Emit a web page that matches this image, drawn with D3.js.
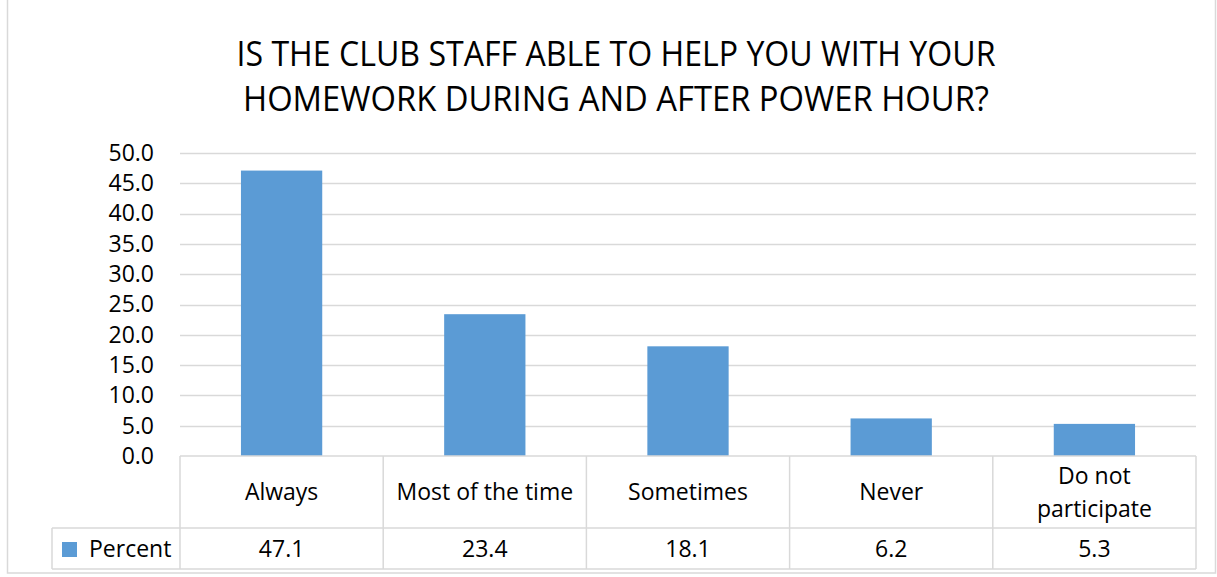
<!DOCTYPE html>
<html>
<head>
<meta charset="utf-8">
<script src="https://cdn.jsdelivr.net/npm/d3@7"></script>
<style>
  html, body { margin: 0; padding: 0; background: #fff; }
  svg { display: block; font-family: "Open Sans", "Noto Sans", sans-serif; }
</style>
</head>
<body>
<svg id="chart" width="1217" height="577"></svg>
<script>
// Survey responses (percent of members)
const categories = ["Always", "Most of the time", "Sometimes", "Never", "Do not participate"];
const percentValues = [47.1, 23.4, 18.1, 6.2, 5.3];
const yTicks = [0, 5, 10, 15, 20, 25, 30, 35, 40, 45, 50];
const titleLines = ["IS THE CLUB STAFF ABLE TO HELP YOU WITH YOUR", "HOMEWORK DURING AND AFTER POWER HOUR?"];
const seriesName = "Percent";

const svg = d3.select("#chart");
const W = 1217, H = 577;
const barColor = "#5b9bd5";
const gridColor = "#d9d9d9";
const textColor = "#000";
const labelSize = 23;

// plot area
const plotLeft = 180, plotRight = 1196, plotTop = 153, plotBottom = 456;
const tableRow1 = 528, tableRow2 = 569, legendLeft = 52;

// outer chart border
svg.append("rect")
  .attr("x", 7.5).attr("y", -1).attr("width", W - 9).attr("height", H - 3)
  .attr("fill", "#fff").attr("stroke", gridColor).attr("stroke-width", 1.5);

// title
const titleWidths = [759, 746];
titleLines.forEach((t, i) => {
  svg.append("text")
    .attr("x", 616).attr("y", 66 + i * 45)
    .attr("text-anchor", "middle")
    .attr("font-size", 35)
    .attr("textLength", titleWidths[i])
    .attr("lengthAdjust", "spacingAndGlyphs")
    .attr("fill", textColor)
    .text(t);
});

const x = d3.scaleBand().domain(categories).range([plotLeft, plotRight]).paddingInner(0).paddingOuter(0);
const y = d3.scaleLinear().domain([0, 50]).range([plotBottom, plotTop]);

// gridlines
svg.append("g").selectAll("line").data(yTicks.filter(d => d > 0)).join("line")
  .attr("x1", plotLeft).attr("x2", plotRight)
  .attr("y1", d => Math.round(y(d)) + 0.5).attr("y2", d => Math.round(y(d)) + 0.5)
  .attr("stroke", gridColor).attr("stroke-width", 1.5);

// y axis labels
const yAxis = d3.axisLeft(y).tickValues(yTicks).tickFormat(d3.format(".1f")).tickSize(0).tickPadding(0);
const yg = svg.append("g").attr("transform", `translate(${154},0)`).call(yAxis);
yg.select(".domain").remove();
yg.selectAll("text")
  .attr("font-size", 23).attr("fill", textColor)
  .attr("font-family", "'Open Sans', 'Noto Sans', sans-serif");

// bars (gap width 150% of bar width)
const barW = x.bandwidth() / 2.5;
svg.append("g").selectAll("rect").data(categories).join("rect")
  .attr("x", d => x(d) + (x.bandwidth() - barW) / 2)
  .attr("width", barW)
  .attr("y", (d, i) => y(percentValues[i]))
  .attr("height", (d, i) => y(0) - y(percentValues[i]))
  .attr("fill", barColor);

// data table grid
const tg = svg.append("g").attr("stroke", gridColor).attr("stroke-width", 1.5).attr("fill", "none");
tg.append("line").attr("x1", plotLeft).attr("x2", plotRight).attr("y1", plotBottom).attr("y2", plotBottom);
tg.append("line").attr("x1", legendLeft).attr("x2", plotRight).attr("y1", tableRow1).attr("y2", tableRow1);
tg.append("line").attr("x1", legendLeft).attr("x2", plotRight).attr("y1", tableRow2).attr("y2", tableRow2);
tg.append("line").attr("x1", legendLeft).attr("x2", legendLeft).attr("y1", tableRow1).attr("y2", tableRow2);
const edges = categories.map(c => x(c)).concat([plotRight]);
tg.selectAll("line.v").data(edges).join("line").attr("class", "v")
  .attr("x1", d => d).attr("x2", d => d).attr("y1", plotBottom).attr("y2", tableRow2);

// category labels (wrapped when too wide)
const catLines = { "Do not participate": ["Do not", "participate"] };
categories.forEach(c => {
  const lines = catLines[c] || [c];
  const cx = x(c) + x.bandwidth() / 2;
  const t = svg.append("text").attr("text-anchor", "middle").attr("font-size", labelSize).attr("fill", textColor);
  if (lines.length === 1) {
    t.append("tspan").attr("x", cx).attr("y", 500).text(lines[0]);
  } else {
    lines.forEach((l, i) => t.append("tspan").attr("x", cx).attr("y", 484 + i * 33).text(l));
  }
});

// values row
svg.append("g").selectAll("text").data(categories).join("text")
  .attr("x", d => x(d) + x.bandwidth() / 2)
  .attr("y", 557)
  .attr("text-anchor", "middle").attr("font-size", labelSize).attr("fill", textColor)
  .text((d, i) => percentValues[i].toFixed(1));

// legend key in table
svg.append("rect").attr("x", 62).attr("y", 542).attr("width", 15).attr("height", 15).attr("fill", barColor);
svg.append("text").attr("x", 89).attr("y", 557).attr("font-size", labelSize).attr("fill", textColor).text(seriesName);
</script>
</body>
</html>
